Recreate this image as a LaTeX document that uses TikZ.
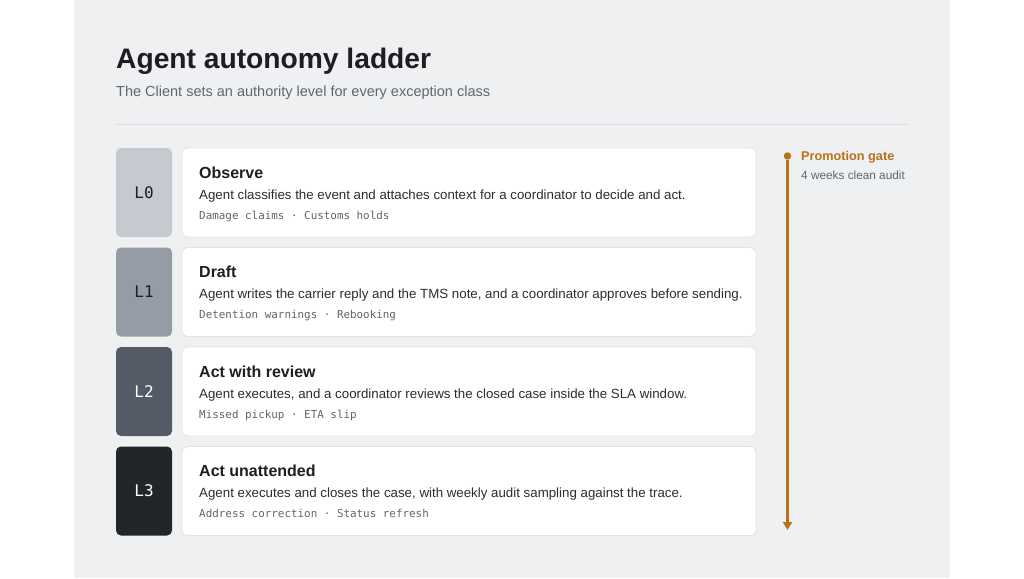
\documentclass[tikz,border=0pt]{standalone}
\usepackage{fontspec}
\setmainfont{Liberation Sans}
\setmonofont{DejaVu Sans Mono}
\usepackage{xcolor}
\usetikzlibrary{arrows.meta,positioning}

\definecolor{panelbg}{HTML}{EFF0F2}
\definecolor{inkdark}{HTML}{1C1E21}
\definecolor{inkbody}{HTML}{2A2D31}
\definecolor{inkgrey}{HTML}{5F6670}
\definecolor{rulegrey}{HTML}{DCDEE1}
\definecolor{cardline}{HTML}{E1E3E6}
\definecolor{lvlzero}{HTML}{C5CAD1}
\definecolor{lvlone}{HTML}{969CA6}
\definecolor{lvltwo}{HTML}{555B66}
\definecolor{lvlthree}{HTML}{22262B}
\definecolor{gateorange}{HTML}{B8731A}

\tikzset{
    badge/.style={rounded corners=5pt, minimum width=56pt, minimum height=89pt,
        inner sep=0pt, font=\fontsize{16}{19}\ttfamily},
    card/.style={draw=cardline, fill=white, rounded corners=5pt, line width=0.8pt,
        minimum width=574pt, minimum height=89pt, inner sep=0pt},
    cardtitle/.style={anchor=base west, inner sep=0pt, text=inkdark,
        font=\fontsize{16}{19}\bfseries},
    cardbody/.style={anchor=base west, inner sep=0pt, text=inkbody,
        font=\fontsize{13.3}{16}\selectfont},
    cardtags/.style={anchor=base west, inner sep=0pt, text=inkgrey,
        font=\fontsize{10.9}{13}\ttfamily},
}

\begin{document}
\begin{tikzpicture}[x=1pt, y=-1pt]
    \useasboundingbox (0,0) rectangle (1024,578);
    \fill[panelbg] (74,0) rectangle (950,578);

    % Heading
    \node[anchor=base west, inner sep=0pt, text=inkdark, font=\fontsize{28.2}{32}\bfseries]
        (title) at (116,68) {Agent autonomy ladder};
    \node[anchor=base west, inner sep=0pt, text=inkgrey, font=\fontsize{14.5}{17}\selectfont]
        (subtitle) at (116,96) {The Client sets an authority level for every exception class};
    \draw[rulegrey, line width=1pt] (116,124) -- (908,124);

    % L0
    \node[badge, fill=lvlzero, text=inkdark] (badge0) at (144,192.5) {L0};
    \node[card] (card0) at (469,192.5) {};
    \node[cardtitle] (title0) at (199,178) {Observe};
    \node[cardbody] (body0) at (199,199) {Agent classifies the event and attaches context for a coordinator to decide and act.};
    \node[cardtags] (tags0) at (199,219) {Damage claims · Customs holds};

    % L1
    \node[badge, fill=lvlone, text=inkdark] (badge1) at (144,292) {L1};
    \node[card] (card1) at (469,292) {};
    \node[cardtitle] (title1) at (199,277.5) {Draft};
    \node[cardbody] (body1) at (199,298.5) {Agent writes the carrier reply and the TMS note, and a coordinator approves before sending.};
    \node[cardtags] (tags1) at (199,318.5) {Detention warnings · Rebooking};

    % L2
    \node[badge, fill=lvltwo, text=white] (badge2) at (144,391.5) {L2};
    \node[card] (card2) at (469,391.5) {};
    \node[cardtitle] (title2) at (199,377) {Act with review};
    \node[cardbody] (body2) at (199,398) {Agent executes, and a coordinator reviews the closed case inside the SLA window.};
    \node[cardtags] (tags2) at (199,418) {Missed pickup · ETA slip};

    % L3
    \node[badge, fill=lvlthree, text=white] (badge3) at (144,491) {L3};
    \node[card] (card3) at (469,491) {};
    \node[cardtitle] (title3) at (199,476.5) {Act unattended};
    \node[cardbody] (body3) at (199,497.5) {Agent executes and closes the case, with weekly audit sampling against the trace.};
    \node[cardtags] (tags3) at (199,517.5) {Address correction · Status refresh};

    % Promotion gate
    \node[circle, fill=gateorange, inner sep=0pt, minimum size=7.5pt] (gate) at (787.5,156) {};
    \coordinate (gateend) at (787.5,530);
    \draw[gateorange, line width=2.2pt, -{Triangle[width=9pt,length=8pt]}] (gate) -- (gateend);
    \node[anchor=base west, inner sep=0pt, text=gateorange, font=\fontsize{12.7}{15}\bfseries]
        (gatetitle) at (801,160.5) {Promotion gate};
    \node[anchor=base west, inner sep=0pt, text=inkgrey, font=\fontsize{11.8}{14}\selectfont]
        (gatenote) at (801,179) {4 weeks clean audit};
\end{tikzpicture}
\end{document}
